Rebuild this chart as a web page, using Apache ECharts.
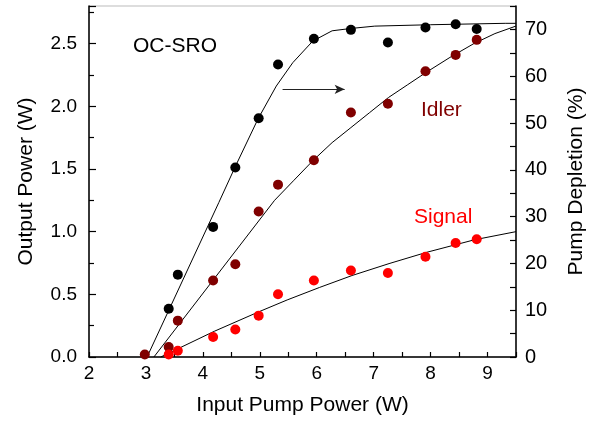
<!DOCTYPE html>
<html>
<head>
    <meta charset="utf-8">
    <title>OC-SRO</title>
    <script src="https://cdn.jsdelivr.net/npm/echarts@6/dist/echarts.min.js"></script>
    <style>
        html, body { margin: 0; padding: 0; background: #fff; }
        #chart1 { width: 595px; height: 424px; }
    </style>
</head>
<body>
<div id="chart1"></div>
<script>
    // measured points
    var pumpX = [3.40, 3.56, 4.18, 4.57, 4.98, 5.32, 5.95, 6.60, 7.25, 7.91, 8.44, 8.81];
    var depletion = [10.3, 17.6, 27.8, 40.5, 51.0, 62.5, 68.0, 69.9, 67.2, 70.4, 71.1, 70.1];

    var idlerX = [2.98, 3.40, 3.56, 4.18, 4.57, 4.98, 5.32, 5.95, 6.60, 7.25, 7.91, 8.44, 8.81];
    var idler = [0.02, 0.08, 0.29, 0.61, 0.74, 1.16, 1.375, 1.57, 1.95, 2.02, 2.28, 2.41, 2.53];

    var signalX = [3.40, 3.56, 4.18, 4.57, 4.98, 5.32, 5.95, 6.60, 7.25, 7.91, 8.44, 8.81];
    var signal = [0.02, 0.05, 0.16, 0.22, 0.33, 0.50, 0.61, 0.69, 0.67, 0.80, 0.91, 0.94];

    // fitted curves
    var depFitX = [3.02, 4.28, 4.57, 4.97, 5.29, 5.58, 5.93, 6.27, 6.60, 7.02, 8.00, 9.31, 9.5];
    var depFit = [0, 33.0, 40.7, 50.9, 57.9, 62.9, 67.5, 69.7, 70.2, 70.7, 71.0, 71.3, 71.3];

    var idlerFitX = [3.14, 5.26, 5.60, 5.94, 6.27, 6.60, 6.93, 7.26, 7.59, 7.92, 8.34, 8.76, 9.13, 9.5];
    var idlerFit = [0, 1.25, 1.41, 1.57, 1.71, 1.83, 1.95, 2.07, 2.17, 2.27, 2.39, 2.50, 2.58, 2.64];

    var signalFitX = [3.26, 4.20, 4.98, 5.48, 6.05, 6.62, 7.27, 7.93, 8.77, 9.5];
    var signalFit = [0, 0.205, 0.36, 0.455, 0.555, 0.65, 0.745, 0.835, 0.935, 1.0];

    var arrowX = [5.40, 6.49];
    var arrowY = 57.2;

    var font = "'Liberation Sans', Arial, sans-serif";

    function pairs(xs, ys) {
        var out = [];
        for (var i = 0; i < xs.length; i++) out.push([xs[i], ys[i]]);
        return out;
    }

    var myChart1 = echarts.init(document.getElementById('chart1'));
    myChart1.setOption({
        animation: false,
        grid: {
            left: 89, right: 73, top: 6, bottom: 67,
            show: true, borderColor: '#bbb', borderWidth: 1
        },
        xAxis: {
            type: 'value', min: 2, max: 9.5, interval: 1,
            name: 'Input Pump Power (W)', nameLocation: 'middle', nameGap: 38,
            nameTextStyle: { fontFamily: font, fontSize: 21, color: '#000' },
            axisLine: { lineStyle: { color: '#000', width: 1.5 } },
            axisTick: { inside: true, length: 5, lineStyle: { color: '#000', width: 1.2 } },
            minorTick: { show: true, splitNumber: 2, length: 5, lineStyle: { color: '#000', width: 1.2 } },
            axisLabel: { fontFamily: font, fontSize: 19, color: '#000', margin: 7, showMaxLabel: false },
            splitLine: { show: false }
        },
        yAxis: [{
            type: 'value', min: 0, max: 2.8, interval: 0.5,
            name: 'Output Power (W)', nameLocation: 'middle', nameGap: 52, nameRotate: 90,
            nameTextStyle: { fontFamily: font, fontSize: 21, color: '#000' },
            axisLine: { show: true, lineStyle: { color: '#000', width: 1.5 } },
            axisTick: { inside: true, length: 7, lineStyle: { color: '#000', width: 1.2 } },
            minorTick: { show: true, splitNumber: 2, length: 5, lineStyle: { color: '#000', width: 1.2 } },
            axisLabel: {
                fontFamily: font, fontSize: 19, color: '#000', margin: 12, showMaxLabel: false,
                formatter: function (v) { return v.toFixed(1); }
            },
            splitLine: { show: false }
        }, {
            type: 'value', min: 0, max: 75, interval: 10, position: 'right',
            name: 'Pump Depletion (%)', nameLocation: 'middle', nameGap: 50, nameRotate: 90,
            nameTextStyle: { fontFamily: font, fontSize: 21, color: '#000' },
            axisLine: { show: true, lineStyle: { color: '#000', width: 1.5 } },
            axisTick: { inside: true, length: 6, lineStyle: { color: '#000', width: 1.2 } },
            minorTick: { show: true, splitNumber: 2, length: 6, lineStyle: { color: '#000', width: 1.2 } },
            axisLabel: { fontFamily: font, fontSize: 20, color: '#000', margin: 9, showMaxLabel: false },
            splitLine: { show: false }
        }],
        graphic: [
            { type: 'text', x: 133, y: 46, style: { text: 'OC-SRO', fill: '#000', font: '21px ' + font, verticalAlign: 'middle' } },
            { type: 'text', x: 421, y: 110, style: { text: 'Idler', fill: '#800000', font: '21px ' + font, verticalAlign: 'middle' } },
            { type: 'text', x: 414, y: 217, style: { text: 'Signal', fill: '#ff0000', font: '21px ' + font, verticalAlign: 'middle' } }
        ],
        series: [{
            name: 'depletion fit', type: 'line', yAxisIndex: 1, data: pairs(depFitX, depFit),
            showSymbol: false, smooth: false, z: 1,
            lineStyle: { color: '#000', width: 1 },
            markLine: {
                silent: true, symbol: ['none', 'arrow'], symbolSize: [7, 10],
                lineStyle: { color: '#222', width: 1, type: 'solid' },
                label: { show: false },
                data: [[{ coord: [arrowX[0], arrowY] }, { coord: [arrowX[1], arrowY] }]]
            }
        }, {
            name: 'idler fit', type: 'line', data: pairs(idlerFitX, idlerFit),
            showSymbol: false, smooth: false, z: 1,
            lineStyle: { color: '#000', width: 1 }
        }, {
            name: 'signal fit', type: 'line', data: pairs(signalFitX, signalFit),
            showSymbol: false, smooth: false, z: 1,
            lineStyle: { color: '#000', width: 1 }
        }, {
            name: 'Pump Depletion', type: 'scatter', yAxisIndex: 1, data: pairs(pumpX, depletion),
            symbolSize: 10, itemStyle: { color: '#000', opacity: 1 }, z: 3
        }, {
            name: 'Idler', type: 'scatter', data: pairs(idlerX, idler),
            symbolSize: 10, itemStyle: { color: '#800000', opacity: 1 }, z: 3
        }, {
            name: 'Signal', type: 'scatter', data: pairs(signalX, signal),
            symbolSize: 10, itemStyle: { color: '#ff0000', opacity: 1 }, z: 3
        }]
    });
</script>
</body>
</html>
